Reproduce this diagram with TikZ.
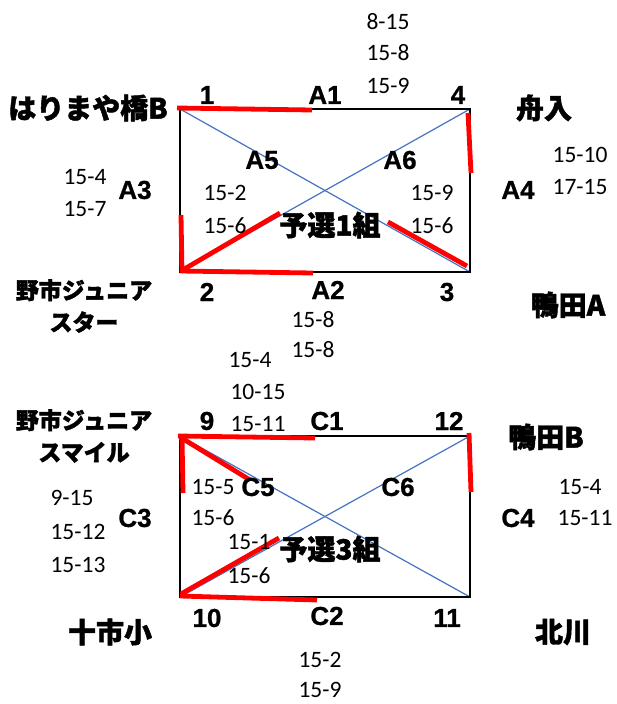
\documentclass[tikz,border=0pt]{standalone}
\usepackage{fontspec}
\setmainfont{Carlito}
\newfontfamily\jp[FakeBold=1.6]{Noto Sans CJK JP}
\newfontfamily\lab[FakeBold=0.8]{Liberation Sans}
\definecolor{ublue}{HTML}{4472C4}
\begin{document}
\begin{tikzpicture}[x=1pt,y=-1pt,
  score/.style={font=\fontsize{23.5}{26}\selectfont, inner sep=0pt},
  lbl/.style={font=\lab\bfseries\fontsize{26}{28}\selectfont, inner sep=0pt},
  team/.style={font=\jp\bfseries\fontsize{28}{30}\selectfont, inner sep=0pt},
  boxline/.style={line width=2.6pt, black},
  diag/.style={line width=1.2pt, ublue},
  win/.style={line width=4.8pt, red}]
\useasboundingbox (0,0) rectangle (616,704);

% ---------- Group 1 ----------
\coordinate (a1) at (180,109);
\coordinate (a4) at (470,109);
\coordinate (a2) at (180,272);
\coordinate (a3) at (470,272);
\draw[diag] (a1) -- (a3);
\draw[diag] (a2) -- (a4);
\draw[boxline] (a1) -- (a4) -- (a3) -- (a2) -- cycle;

\coordinate (r1s) at (177,108); \coordinate (r1e) at (312,110);
\coordinate (r2s) at (468,113); \coordinate (r2e) at (471,173);
\coordinate (r3s) at (181,215); \coordinate (r3e) at (182,272);
\coordinate (r4s) at (180,271); \coordinate (r4e) at (313,273);
\coordinate (r5s) at (181,271); \coordinate (r5e) at (280,213);
\coordinate (r6s) at (388,222); \coordinate (r6e) at (467,266);
\foreach \i in {1,...,6} {\draw[win] (r\i s) -- (r\i e);}

\node[lbl] (n1) at (207,95) {1};
\node[lbl] (nA1) at (325,95) {A1};
\node[lbl] (n4) at (458,95) {4};
\node[lbl] (nA5) at (262,160) {A5};
\node[lbl] (nA6) at (400,160) {A6};
\node[lbl] (n2) at (207,292) {2};
\node[lbl] (nA2) at (328,290) {A2};
\node[lbl] (n3) at (447,292) {3};
\node[lbl] (nA3) at (135,190) {A3};
\node[lbl] (nA4) at (518,190) {A4};

\node[score] (s1) at (388,22) {8-15};
\node[score] (s2) at (388,53) {15-8};
\node[score] (s3) at (388,86) {15-9};
\node[score] (s4) at (225,193) {15-2};
\node[score] (s5) at (225,226) {15-6};
\node[score] (s6) at (432,193) {15-9};
\node[score] (s7) at (432,226) {15-6};
\node[score] (s8) at (580,155) {15-10};
\node[score] (s9) at (580,187) {17-15};
\node[score] (s10) at (85,177) {15-4};
\node[score] (s11) at (85,209) {15-7};
\node[score] (s12) at (313,320) {15-8};
\node[score] (s13) at (313,350) {15-8};

\node[team] (g1) at (330,225) {予選1組};
\node[team] (t1) at (88,108) {はりまや橋B};
\node[team] (t2) at (544,108) {舟入};
\node[team, font=\jp\bfseries\fontsize{23}{32}\selectfont, align=center] (t3) at (84,306) {野市ジュニア\\スター};
\node[team] (t4) at (568,305) {鴨田A};

% ---------- Group 3 ----------
\coordinate (c9) at (180,436);
\coordinate (c12) at (470,436);
\coordinate (c10) at (180,597);
\coordinate (c11) at (470,597);
\draw[diag] (c9) -- (c11);
\draw[diag] (c10) -- (c12);
\draw[boxline] (c9) -- (c12) -- (c11) -- (c10) -- cycle;

\coordinate (q1s) at (178,436); \coordinate (q1e) at (315,438);
\coordinate (q2s) at (182,436); \coordinate (q2e) at (183,493);
\coordinate (q3s) at (180,437); \coordinate (q3e) at (250,480);
\coordinate (q4s) at (469,433); \coordinate (q4e) at (471,492);
\coordinate (q5s) at (181,594); \coordinate (q5e) at (279,538);
\coordinate (q6s) at (180,596); \coordinate (q6e) at (317,600);
\foreach \i in {1,...,6} {\draw[win] (q\i s) -- (q\i e);}

\node[lbl] (n9) at (207,421) {9};
\node[lbl] (nC1) at (327,421) {C1};
\node[lbl] (n12) at (449,421) {12};
\node[lbl] (nC5) at (258,487) {C5};
\node[lbl] (nC6) at (398,487) {C6};
\node[lbl] (n10) at (207,618) {10};
\node[lbl] (nC2) at (327,616) {C2};
\node[lbl] (n11) at (447,618) {11};
\node[lbl] (nC3) at (135,518) {C3};
\node[lbl] (nC4) at (518,518) {C4};

\node[score] (u1) at (250,360) {15-4};
\node[score] (u2) at (258,392) {10-15};
\node[score] (u3) at (258,424) {15-11};
\node[score] (u4) at (213,487) {15-5};
\node[score] (u5) at (213,518) {15-6};
\node[score] (u6) at (249,542) {15-1};
\node[score] (u7) at (249,576) {15-6};
\node[score] (u8) at (72,498) {9-15};
\node[score] (u9) at (78,532) {15-12};
\node[score] (u10) at (78,565) {15-13};
\node[score] (u11) at (580,487) {15-4};
\node[score] (u12) at (585,518) {15-11};
\node[score] (u13) at (320,660) {15-2};
\node[score] (u14) at (320,690) {15-9};

\node[team] (g3) at (330,549) {予選3組};
\node[team, font=\jp\bfseries\fontsize{23}{32}\selectfont, align=center] (t5) at (84,436) {野市ジュニア\\スマイル};
\node[team] (t6) at (546,437) {鴨田B};
\node[team] (t7) at (110,632) {十市小};
\node[team] (t8) at (563,632) {北川};
\end{tikzpicture}
\end{document}
